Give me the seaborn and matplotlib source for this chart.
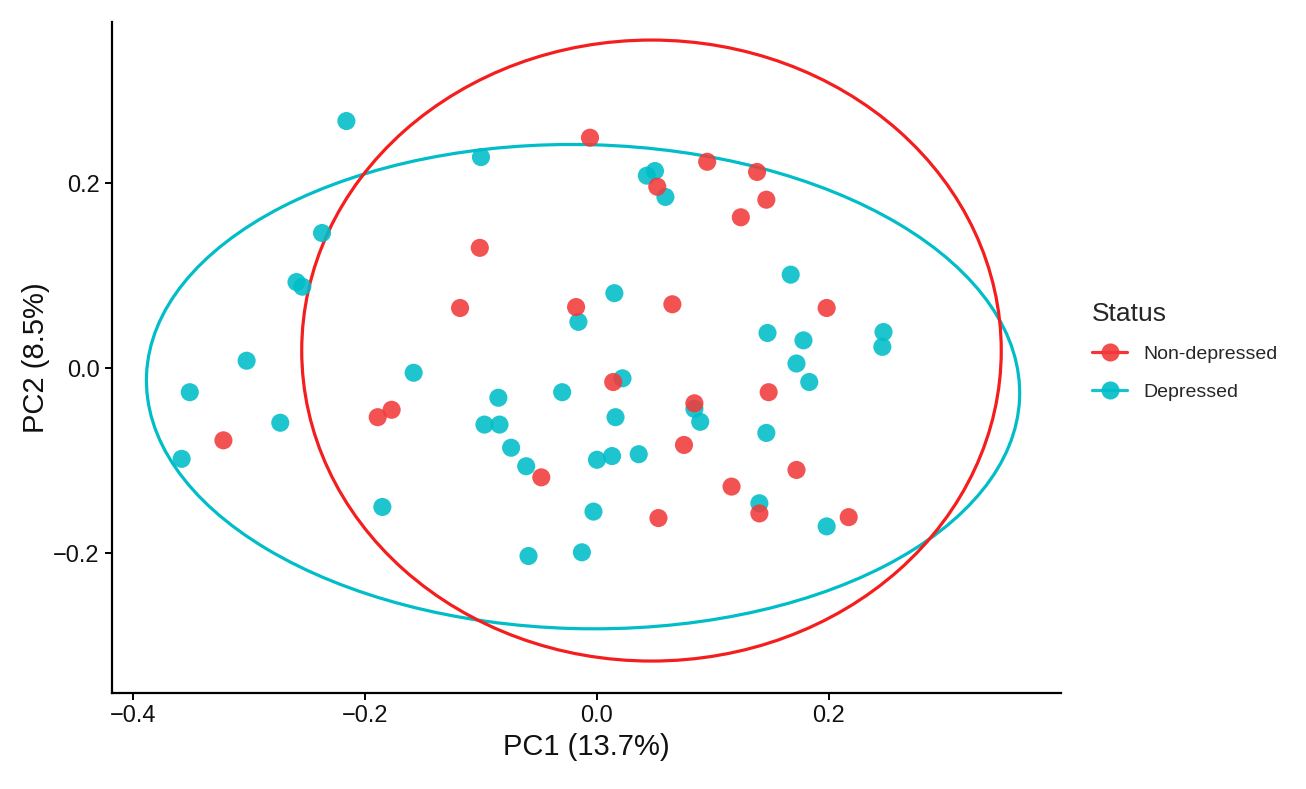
import numpy as np
import pandas as pd
import seaborn as sns
import matplotlib
matplotlib.use("Agg")
import matplotlib.pyplot as plt
from matplotlib.patches import Ellipse
from matplotlib.lines import Line2D

# PCA scores
nondep_pc1 = [-0.006, 0.052, 0.095, 0.138, 0.146, 0.124, -0.018, 0.065, 0.198, -0.101,
              -0.118, -0.322, -0.189, -0.177, -0.048, 0.014, 0.148, 0.084, 0.075, 0.172,
              0.116, 0.140, 0.053, 0.217]
nondep_pc2 = [0.249, 0.196, 0.223, 0.212, 0.182, 0.163, 0.066, 0.069, 0.065, 0.130,
              0.065, -0.078, -0.053, -0.045, -0.118, -0.015, -0.026, -0.038, -0.083, -0.110,
              -0.128, -0.157, -0.162, -0.161]

dep_pc1 = [-0.216, -0.100, -0.237, -0.259, -0.254, -0.302, -0.351, -0.358, -0.273, -0.158,
           -0.085, -0.097, -0.084, -0.074, -0.061, -0.185, -0.059, 0.043, 0.050, 0.059,
           0.167, -0.016, 0.015, 0.147, 0.178, 0.247, 0.246, 0.172, 0.183, 0.022,
           -0.030, 0.084, 0.089, 0.016, 0.146, 0.000, 0.013, 0.036, 0.140, 0.198,
           -0.003, -0.013]
dep_pc2 = [0.267, 0.228, 0.146, 0.093, 0.088, 0.008, -0.026, -0.098, -0.059, -0.005,
           -0.032, -0.061, -0.061, -0.086, -0.106, -0.150, -0.203, 0.208, 0.213, 0.185,
           0.101, 0.050, 0.081, 0.038, 0.030, 0.039, 0.023, 0.005, -0.015, -0.011,
           -0.026, -0.044, -0.058, -0.053, -0.070, -0.099, -0.095, -0.093, -0.146, -0.171,
           -0.155, -0.199]

# 95% ellipses (center x, center y, width, height, angle)
ell_nondep = (0.047, 0.019, 0.603, 0.671, 0.0)
ell_dep = (-0.012, -0.020, 0.753, 0.523, -2.0)

groups = ["Non-depressed", "Depressed"]
colors = {"Non-depressed": "#F23A3A", "Depressed": "#00BDC8"}
line_colors = {"Non-depressed": "#F51E1E", "Depressed": "#00BDC8"}

df = pd.concat([
    pd.DataFrame({"PC1": dep_pc1, "PC2": dep_pc2, "Status": "Depressed"}),
    pd.DataFrame({"PC1": nondep_pc1, "PC2": nondep_pc2, "Status": "Non-depressed"}),
], ignore_index=True)

sns.set_style("white")
plt.rcParams["font.family"] = ["Liberation Sans", "DejaVu Sans"]

fig = plt.figure(figsize=(13.06, 7.89), dpi=100)
ax = fig.add_axes([0.0858, 0.1217, 0.7266, 0.8504])

sns.scatterplot(data=df, x="PC1", y="PC2", hue="Status", palette=colors,
                s=170, alpha=0.88, linewidth=0, legend=False, ax=ax, zorder=3)

# stat_ellipse style outlines
for name, e in [("Depressed", ell_dep), ("Non-depressed", ell_nondep)]:
    ax.add_patch(Ellipse((e[0], e[1]), e[2], e[3], angle=e[4], fill=False,
                         edgecolor=line_colors[name], linewidth=2.3, zorder=2))

ax.set_xlim(-0.418, 0.400)
ax.set_ylim(-0.351, 0.374)
ax.set_xticks([-0.4, -0.2, 0.0, 0.2])
ax.set_xticklabels(["\u22120.4", "\u22120.2", "0.0", "0.2"])
ax.set_yticks([-0.2, 0.0, 0.2])
ax.set_yticklabels(["\u22120.2", "0.0", "0.2"])
ax.tick_params(axis="both", labelsize=17, length=5, width=1.4, color="black",
               labelcolor="#111111", pad=4, direction="out", bottom=True, left=True)
sns.despine(ax=ax)
for sp in ["left", "bottom"]:
    ax.spines[sp].set_linewidth(1.6)
    ax.spines[sp].set_color("black")

ax.set_xlabel("PC1 (13.7%)", fontsize=21, color="#111111", labelpad=4)
ax.set_ylabel("PC2 (8.5%)", fontsize=21, color="#111111", labelpad=2)

handles = [Line2D([0], [0], color=line_colors[g], linewidth=2.3, marker="o",
                  markersize=13, markerfacecolor=colors[g], markeredgewidth=0,
                  alpha=0.9) for g in groups]
leg = fig.legend(handles, groups, title="Status", loc="upper left",
                 bbox_to_anchor=(0.823, 0.64), frameon=False, fontsize=14,
                 title_fontsize=19, handlelength=1.8, labelspacing=1.05,
                 handletextpad=0.8)
leg._legend_box.align = "left"
leg._legend_box.sep = 14

fig.savefig("out.png", dpi=100, facecolor="white")
